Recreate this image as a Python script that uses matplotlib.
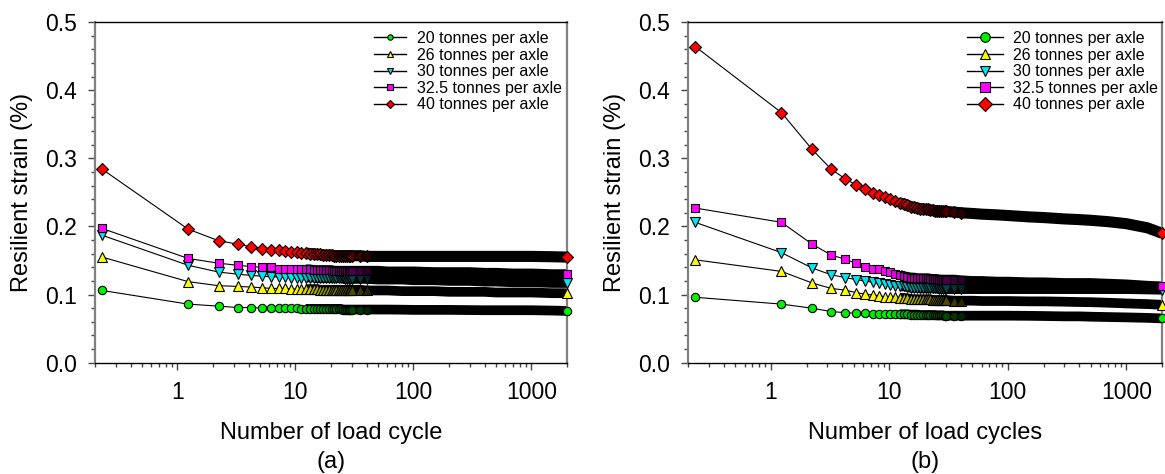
import matplotlib
matplotlib.use("Agg")
import matplotlib.pyplot as plt
from matplotlib.lines import Line2D
from matplotlib.colors import to_rgb
from matplotlib.ticker import MultipleLocator, LogLocator, FixedLocator, FixedFormatter, NullFormatter, FormatStrFormatter
import numpy as np

plt.rcParams['font.family'] = ['Liberation Sans', 'DejaVu Sans']

cycles = list(range(31)) + [35, 40, 50, 60, 80, 100, 150, 200, 300, 400, 500, 700, 1000, 1500, 2000]

labels = ["20 tonnes per axle", "26 tonnes per axle", "30 tonnes per axle",
          "32.5 tonnes per axle", "40 tonnes per axle"]

# panel (a) resilient strain (%)
a_20 = [0.106, 0.086, 0.083, 0.081, 0.081, 0.080, 0.080, 0.080, 0.080, 0.080, 0.080,
        0.079, 0.079, 0.079, 0.079, 0.079, 0.079, 0.079, 0.079, 0.079, 0.079,
        0.079, 0.079, 0.079, 0.079, 0.078, 0.078, 0.078, 0.078, 0.078, 0.078,
        0.078, 0.078, 0.078, 0.078, 0.0778, 0.0775, 0.0775, 0.0775, 0.0772, 0.077, 0.077, 0.077, 0.077, 0.0765, 0.076]
a_26 = [0.155, 0.119, 0.113, 0.112, 0.111, 0.110, 0.109, 0.109, 0.109, 0.108, 0.108,
        0.108, 0.108, 0.108, 0.108, 0.108, 0.107, 0.107, 0.107, 0.107, 0.107,
        0.107, 0.107, 0.107, 0.107, 0.107, 0.107, 0.107, 0.107, 0.107, 0.107,
        0.107, 0.106, 0.106, 0.106, 0.105, 0.105, 0.105, 0.104, 0.104, 0.104, 0.103, 0.103, 0.103, 0.102, 0.102]
a_30 = [0.187, 0.143, 0.133, 0.130, 0.128, 0.127, 0.126, 0.126, 0.126, 0.125, 0.125,
        0.125, 0.125, 0.125, 0.125, 0.124, 0.124, 0.124, 0.124, 0.124, 0.124,
        0.124, 0.124, 0.124, 0.124, 0.124, 0.123, 0.123, 0.123, 0.123, 0.123,
        0.123, 0.123, 0.122, 0.122, 0.122, 0.121, 0.121, 0.120, 0.120, 0.119, 0.119, 0.118, 0.118, 0.117, 0.117]
a_325 = [0.197, 0.153, 0.146, 0.143, 0.141, 0.140, 0.140, 0.138, 0.138, 0.137, 0.137,
         0.137, 0.137, 0.137, 0.136, 0.136, 0.136, 0.136, 0.136, 0.136, 0.136,
         0.135, 0.135, 0.135, 0.135, 0.135, 0.135, 0.135, 0.135, 0.135, 0.135,
         0.135, 0.135, 0.135, 0.134, 0.134, 0.134, 0.133, 0.133, 0.133, 0.132, 0.132, 0.131, 0.131, 0.130, 0.130]
a_40 = [0.284, 0.196, 0.179, 0.174, 0.170, 0.167, 0.166, 0.165, 0.164, 0.163, 0.162,
        0.161, 0.161, 0.160, 0.160, 0.159, 0.159, 0.158, 0.158, 0.158, 0.158,
        0.157, 0.157, 0.157, 0.157, 0.157, 0.157, 0.157, 0.157, 0.157, 0.157,
        0.157, 0.156, 0.156, 0.156, 0.156, 0.156, 0.156, 0.156, 0.156, 0.156, 0.156, 0.156, 0.156, 0.1555, 0.155]

# panel (b) resilient strain (%)
b_20 = [0.096, 0.086, 0.080, 0.075, 0.0735, 0.0725, 0.0725, 0.0715, 0.0715, 0.0715, 0.071,
        0.071, 0.071, 0.071, 0.071, 0.0705, 0.0705, 0.0705, 0.070, 0.070, 0.070,
        0.070, 0.070, 0.070, 0.070, 0.0695, 0.0695, 0.0695, 0.0695, 0.069, 0.069,
        0.069, 0.069, 0.069, 0.069, 0.069, 0.069, 0.0688, 0.0685, 0.068, 0.068, 0.0675, 0.067, 0.0665, 0.0658, 0.065]
b_26 = [0.151, 0.134, 0.117, 0.109, 0.1065, 0.103, 0.1005, 0.0995, 0.098, 0.097, 0.097,
        0.096, 0.0955, 0.095, 0.0945, 0.0935, 0.093, 0.093, 0.093, 0.093, 0.093,
        0.093, 0.093, 0.092, 0.092, 0.092, 0.092, 0.092, 0.092, 0.092, 0.092,
        0.091, 0.091, 0.091, 0.0905, 0.0905, 0.0905, 0.090, 0.090, 0.0895, 0.089, 0.0888, 0.088, 0.087, 0.086, 0.085]
b_30 = [0.206, 0.1615, 0.139, 0.129, 0.125, 0.122, 0.120, 0.118, 0.1165, 0.115, 0.114,
        0.113, 0.112, 0.112, 0.111, 0.110, 0.110, 0.110, 0.109, 0.109, 0.109,
        0.109, 0.109, 0.109, 0.109, 0.109, 0.108, 0.108, 0.108, 0.108, 0.108,
        0.108, 0.108, 0.108, 0.108, 0.108, 0.108, 0.108, 0.108, 0.108, 0.108, 0.108, 0.108, 0.108, 0.1075, 0.107]
b_325 = [0.227, 0.206, 0.174, 0.158, 0.152, 0.146, 0.140, 0.138, 0.137, 0.135, 0.133,
         0.130, 0.129, 0.127, 0.126, 0.125, 0.125, 0.124, 0.124, 0.124, 0.124,
         0.124, 0.123, 0.123, 0.123, 0.123, 0.122, 0.122, 0.122, 0.122, 0.122,
         0.122, 0.121, 0.120, 0.120, 0.119, 0.119, 0.118, 0.118, 0.117, 0.117, 0.117, 0.116, 0.115, 0.113, 0.112]
b_40 = [0.464, 0.367, 0.313, 0.284, 0.270, 0.261, 0.2545, 0.249, 0.246, 0.243, 0.240,
        0.237, 0.234, 0.233, 0.231, 0.229, 0.228, 0.227, 0.226, 0.226, 0.225,
        0.225, 0.224, 0.224, 0.223, 0.223, 0.223, 0.222, 0.222, 0.222, 0.222,
        0.221, 0.220, 0.219, 0.218, 0.217, 0.216, 0.214, 0.213, 0.211, 0.210, 0.209, 0.207, 0.204, 0.198, 0.190]

# styles
colors = ['#00ee00', '#ffff00', '#00e5ee', '#ff00ff', '#ff0000']
markers = ['o', '^', 'v', 's', 'D']
msizes = [6, 6.5, 6.5, 5.8, 5.8]
band_lw = [7, 7, 7, 7, 8]
X_OFFSET = 0.23      # cycle N is drawn at N + 0.23 in the original
BAND_FROM = 12       # from here on the overlapping markers merge into a black band
MARK_UNTIL = 40      # last cycle drawn as separate markers


def shade(color, cycle):
    # crowded markers look darker and darker as their black edges pile up
    t = np.clip((np.log10(max(cycle, 1)) - 1.0) / (np.log10(45) - 1.0), 0, 1) ** 0.8
    return tuple(np.array(to_rgb(color)) * (1 - 0.9 * t))


def draw_panel(ax, series, xlabel, leg_scale, leg_anchor, handlelength, textpad):
    x = np.array(cycles, dtype=float) + X_OFFSET
    cyc = np.array(cycles)
    for y, c, m, ms, blw in zip(series, colors, markers, msizes, band_lw):
        y = np.array(y)
        ax.plot(x, y, '-', color='black', lw=0.8, zorder=2)
        band = cyc >= BAND_FROM
        ax.plot(x[band], y[band], '-', color='black', lw=blw, solid_capstyle='butt', zorder=2)
        for xi, yi, ci in zip(x, y, cyc):
            if ci > MARK_UNTIL:
                break
            ax.plot([xi], [yi], ls='none', marker=m, ms=ms, mfc=shade(c, ci), mec='black',
                    mew=0.8, zorder=3)
        ax.plot(x[-1:], y[-1:], ls='none', marker=m, ms=ms, mfc=c, mec='black', mew=0.8,
                zorder=5, clip_on=False)

    ax.set_xscale('log')
    ax.set_xlim(0.2, 2000)
    ax.set_ylim(0, 0.5)
    ax.xaxis.set_major_locator(FixedLocator([1, 10, 100, 1000]))
    ax.xaxis.set_major_formatter(FixedFormatter(['1', '10', '100', '1000']))
    ax.xaxis.set_minor_locator(LogLocator(base=10, subs=np.arange(2, 10)))
    ax.xaxis.set_minor_formatter(NullFormatter())
    ax.yaxis.set_major_locator(MultipleLocator(0.1))
    ax.yaxis.set_minor_locator(MultipleLocator(0.02))
    ax.yaxis.set_major_formatter(FormatStrFormatter('%.1f'))
    ax.tick_params(which='both', direction='out', labelsize=16.5, pad=8, color='#444444')
    ax.tick_params(which='major', length=5, width=1)
    ax.tick_params(which='minor', length=3, width=1)

    for side in ['left', 'right']:
        ax.spines[side].set_color('#808080')
        ax.spines[side].set_linewidth(1.6)
    for side in ['top', 'bottom']:
        ax.spines[side].set_color('black')
        ax.spines[side].set_linewidth(1.0)

    ax.set_ylabel("Resilient strain (%)", fontsize=17, labelpad=9)
    ax.set_xlabel(xlabel, fontsize=17, labelpad=13, linespacing=1.4)

    handles = [Line2D([], [], color='black', lw=1, marker=m, ms=ms * leg_scale, mfc=c, mec='black', mew=0.8)
               for c, m, ms in zip(colors, markers, msizes)]
    ax.legend(handles, labels, loc='upper left', bbox_to_anchor=leg_anchor,
              bbox_transform=ax.figure.transFigure, frameon=False, fontsize=11.5,
              borderpad=0, borderaxespad=0, labelspacing=0.1,
              handlelength=handlelength, handletextpad=textpad)


fig = plt.figure(figsize=(11.65, 4.74), dpi=100)
ax_a = fig.add_axes([95 / 1165, 1 - 362.7 / 474, 472 / 1165, 340.7 / 474])
ax_b = fig.add_axes([688 / 1165, 1 - 362.7 / 474, 474 / 1165, 340.7 / 474])

draw_panel(ax_a, [a_20, a_26, a_30, a_325, a_40], "Number of load cycle\n(a)",
           0.65, (374 / 1165, 1 - 31 / 474), 2.0, 0.7)
draw_panel(ax_b, [b_20, b_26, b_30, b_325, b_40], "Number of load cycles\n(b)",
           1.15, (967 / 1165, 1 - 31 / 474), 2.25, 0.6)

fig.savefig("out.png", dpi=100, facecolor='white')
